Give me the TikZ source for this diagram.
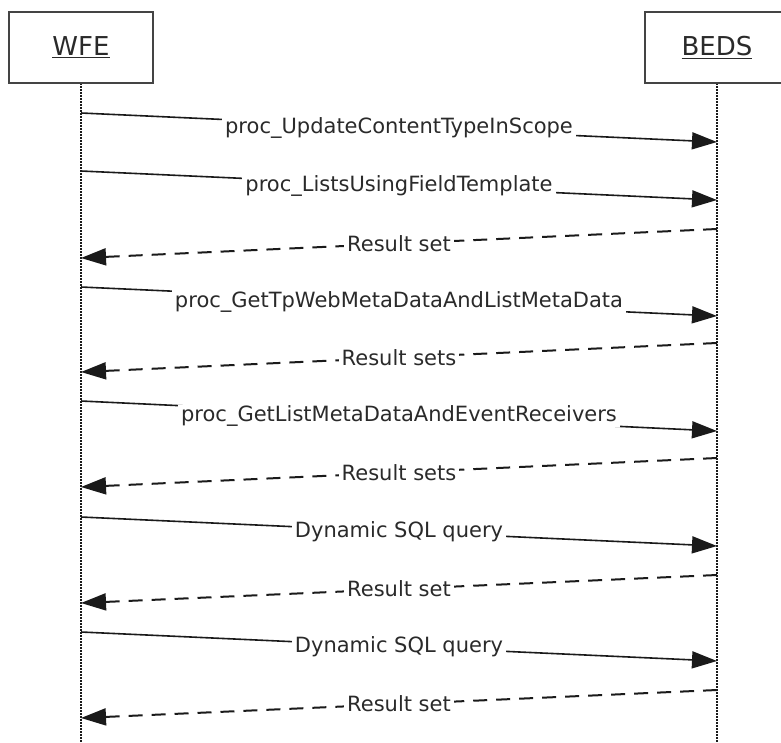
\documentclass[tikz,border=0pt]{standalone}
\usepackage{fontspec}
\setmainfont{DejaVu Sans}
\usetikzlibrary{arrows.meta}
\definecolor{ink}{HTML}{1A1A1A}
\definecolor{boxc}{HTML}{444444}
\definecolor{txt}{HTML}{2A2A2A}
\tikzset{
  actorbox/.style={draw=boxc, line width=1.5pt, fill=white, minimum width=144pt, minimum height=71pt, inner sep=0pt,
    text=txt, font=\fontsize{26}{30}\selectfont},
  lifeline/.style={draw=ink, line width=1.8pt, dash pattern=on 1.5pt off 1.5pt},
  msg/.style={draw=ink, line width=1.6pt, -{Triangle[length=25pt,width=17pt]}},
  ret/.style={draw=ink, line width=2pt, dash pattern=on 14pt off 9pt, -{Triangle[length=25pt,width=17pt]}},
  lbl/.style={fill=white, text=txt, inner xsep=3pt, inner ysep=1pt, font=\fontsize{21}{25}\selectfont, pos=0.5}
}
\begin{document}
\begin{tikzpicture}[x=1pt,y=-1pt]
\useasboundingbox (0,0) rectangle (781,742);
\clip (0,0) rectangle (781,742);
% lifelines
\coordinate (wtop) at (81,83);
\coordinate (wbot) at (81,742);
\coordinate (btop) at (717,83);
\coordinate (bbot) at (717,742);
\draw[lifeline] (wtop) -- (wbot);
\draw[lifeline] (btop) -- (bbot);
% actor boxes
\node[actorbox] (wfe) at (81,47.5) {\underline{WFE}};
\node[actorbox] (beds) at (717,47.5) {\underline{BEDS}};
% message anchor points
\coordinate (w1) at (81,113);  \coordinate (b1) at (717,142);
\coordinate (w2) at (81,171);  \coordinate (b2) at (717,200);
\coordinate (b3) at (717,229); \coordinate (w3) at (81,258);
\coordinate (w4) at (81,287);  \coordinate (b4) at (717,316);
\coordinate (b5) at (717,343); \coordinate (w5) at (81,372);
\coordinate (w6) at (81,401);  \coordinate (b6) at (717,431);
\coordinate (b7) at (717,458); \coordinate (w7) at (81,487);
\coordinate (w8) at (81,517);  \coordinate (b8) at (717,546);
\coordinate (b9) at (717,575); \coordinate (w9) at (81,603);
\coordinate (w10) at (81,632); \coordinate (b10) at (717,661);
\coordinate (b11) at (717,690); \coordinate (w11) at (81,718);
% messages
\draw[msg] (w1) -- node[lbl] (m1) {proc\_UpdateContentTypeInScope} (b1);
\draw[msg] (w2) -- node[lbl] (m2) {proc\_ListsUsingFieldTemplate} (b2);
\draw[ret] (b3) -- node[lbl] (m3) {Result set} (w3);
\draw[msg] (w4) -- node[lbl] (m4) {proc\_GetTpWebMetaDataAndListMetaData} (b4);
\draw[ret] (b5) -- node[lbl] (m5) {Result sets} (w5);
\draw[msg] (w6) -- node[lbl] (m6) {proc\_GetListMetaDataAndEventReceivers} (b6);
\draw[ret] (b7) -- node[lbl] (m7) {Result sets} (w7);
\draw[msg] (w8) -- node[lbl] (m8) {Dynamic SQL query} (b8);
\draw[ret] (b9) -- node[lbl] (m9) {Result set} (w9);
\draw[msg] (w10) -- node[lbl] (m10) {Dynamic SQL query} (b10);
\draw[ret] (b11) -- node[lbl] (m11) {Result set} (w11);
\end{tikzpicture}
\end{document}
